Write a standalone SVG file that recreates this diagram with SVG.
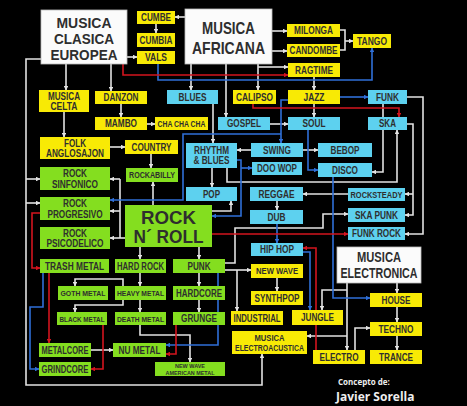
<svg xmlns="http://www.w3.org/2000/svg" width="467" height="406" viewBox="0 0 467 406">
<defs>
<style>
.y{fill:#f8ea05}.c{fill:#5dd1ef}.g{fill:#84de1f}.w{fill:#fbfbfb;stroke:#bbb;stroke-width:0.8}
text{font-family:"Liberation Sans",Arial,sans-serif;font-weight:bold;fill:#2e2e2e;text-anchor:middle;font-size:10px}
.s9{font-size:9px}.s8{font-size:8px}
.lw,.lb,.lr,.ln{fill:none;stroke-width:1.6;stroke-linejoin:miter}
.lw{stroke:#e2e2e2;marker-end:url(#aw)}.ln{stroke:#e2e2e2}
.lb{stroke:#2f6fd8;marker-end:url(#ab)}.lr{stroke:#d3141e;marker-end:url(#ar)}
.sig{font-family:"Open Sans","DejaVu Sans",sans-serif;fill:#eeeeee;text-anchor:start}
</style>
<marker id="aw" viewBox="0 0 10 10" refX="9" refY="5" markerWidth="3" markerHeight="3" orient="auto"><path d="M0,0L10,5L0,10z" fill="#e2e2e2"/></marker>
<marker id="ab" viewBox="0 0 10 10" refX="9" refY="5" markerWidth="3" markerHeight="3" orient="auto"><path d="M0,0L10,5L0,10z" fill="#2f6fd8"/></marker>
<marker id="ar" viewBox="0 0 10 10" refX="9" refY="5" markerWidth="3" markerHeight="3" orient="auto"><path d="M0,0L10,5L0,10z" fill="#d3141e"/></marker>
</defs>
<rect width="467" height="406" fill="#000"/>
<g id="connectors">
<path class="lw" d="M66,64V90"/>
<path class="lw" d="M111,64V91"/>
<path class="lw" d="M127,57H137"/>
<path class="lw" d="M41,59H26V385H262V354"/>
<path class="lw" d="M26,179H40"/>
<path class="lw" d="M26,203H40"/>
<path class="lw" d="M185,17H175"/>
<path class="lw" d="M156,24V33"/>
<path class="lw" d="M272,31H287"/>
<path class="lw" d="M272,51H287"/>
<path class="lw" d="M258,64V90"/>
<path class="lw" d="M258,67H288"/>
<path class="lw" d="M191,64V90"/>
<path class="lw" d="M226,64V117"/>
<path class="ln" d="M340,30H345V50H340"/>
<path class="lw" d="M345,41H353"/>
<path class="lw" d="M314,77V90"/>
<path class="lw" d="M314,104V117"/>
<path class="lw" d="M270,124H288"/>
<path class="lw" d="M121,104V117"/>
<path class="lw" d="M147,124H155"/>
<path class="lw" d="M64,112V137"/>
<path class="lw" d="M110,147H125"/>
<path class="lw" d="M151,154V168"/>
<path class="lw" d="M153,205V182"/>
<path class="lw" d="M213,104V143"/>
<path class="lw" d="M251,150H237"/>
<path class="lw" d="M303,150H318"/>
<path class="lw" d="M212,168V187"/>
<path class="lw" d="M227,168V182H397V130"/>
<path class="lw" d="M212,211H231V201"/>
<path class="lw" d="M125,238H110"/>
<path class="ln" d="M120,238V179"/>
<path class="lw" d="M120,179H110"/>
<path class="lw" d="M120,211H110"/>
<path class="lw" d="M383,104V172H372"/>
<path class="lw" d="M407,97H423V234H405"/>
<path class="lw" d="M407,124H413V215H405"/>
<path class="lw" d="M413,194H405"/>
<path class="lw" d="M348,194H303"/>
<path class="lw" d="M277,201V210"/>
<path class="lw" d="M140,247V259"/>
<path class="lw" d="M199,247V259"/>
<path class="lw" d="M199,273V286"/>
<path class="lw" d="M199,300V312"/>
<path class="lw" d="M140,273V286"/>
<path class="lw" d="M140,300V312"/>
<path class="lw" d="M123,286V279H75V286"/>
<path class="lw" d="M123,300V305H75V312"/>
<path class="lw" d="M140,325V335H190V362"/>
<path class="lw" d="M91,350H113"/>
<path class="lw" d="M225,270H251"/>
<path class="lw" d="M237,270V311"/>
<path class="lw" d="M225,263H235V228H323V214H348"/>
<path class="lw" d="M277,278V291"/>
<path class="lw" d="M347,283V350"/>
<path class="lw" d="M347,290H322V310"/>
<path class="lw" d="M347,336H307"/>
<path class="lw" d="M397,283V293"/>
<path class="lw" d="M397,307V322"/>
<path class="lw" d="M397,336V350"/>
<path class="lw" d="M355,350V328H370"/>
<path class="lb" d="M158,64V80H372V48"/>
<path class="lb" d="M340,97H368"/>
<path class="lb" d="M288,100H281V143"/>
<path class="lb" d="M281,134H183V200H110"/>
<path class="lb" d="M308,130V170H318"/>
<path class="lb" d="M237,160H241V216H212"/>
<path class="lb" d="M241,168H252"/>
<path class="lb" d="M277,224V243"/>
<path class="lb" d="M333,177V298H370"/>
<path class="lb" d="M303,252H310V310"/>
<path class="lb" d="M218,273V345H166"/>
<path class="lb" d="M43,273V307H30V369H39"/>
<path class="lr" d="M123,64V75H288"/>
<path class="lr" d="M253,104V108H399V117"/>
<path class="lr" d="M212,234H348"/>
<path class="lr" d="M40,213H32V268H40"/>
<path class="lr" d="M49,273V343"/>
<path class="lr" d="M103,325V369H91"/>
<path class="lr" d="M176,325V354H166"/>
<path class="lr" d="M316,350V248H303"/>
</g>
<g id="n-clasica"><rect class="w" x="41" y="10" width="86" height="54"/><text x="84" y="28" style="font-size:15px" textLength="55" lengthAdjust="spacingAndGlyphs">MUSICA</text><text x="84" y="44" style="font-size:15px" textLength="60" lengthAdjust="spacingAndGlyphs">CLASICA</text><text x="84" y="60" style="font-size:15px" textLength="67" lengthAdjust="spacingAndGlyphs">EUROPEA</text></g>
<g id="n-cumbe"><rect class="y" x="137" y="11" width="38" height="13"/><text x="156" y="21.1" textLength="30" lengthAdjust="spacingAndGlyphs">CUMBE</text></g>
<g id="n-cumbia"><rect class="y" x="137" y="33" width="38" height="14"/><text x="156" y="43.6" textLength="33" lengthAdjust="spacingAndGlyphs">CUMBIA</text></g>
<g id="n-vals"><rect class="y" x="137" y="51" width="38" height="13"/><text x="156" y="61.1" textLength="22" lengthAdjust="spacingAndGlyphs">VALS</text></g>
<g id="n-africana"><rect class="w" x="185" y="9" width="87" height="55"/><text x="228.5" y="34" style="font-size:17px" textLength="53" lengthAdjust="spacingAndGlyphs">MUSICA</text><text x="228.5" y="54" style="font-size:17px" textLength="73" lengthAdjust="spacingAndGlyphs">AFRICANA</text></g>
<g id="n-milonga"><rect class="y" x="287" y="24" width="53" height="13"/><text x="313.5" y="34.1" textLength="39" lengthAdjust="spacingAndGlyphs">MILONGA</text></g>
<g id="n-candombe"><rect class="y" x="287" y="44" width="53" height="13"/><text x="313.5" y="54.1" textLength="48" lengthAdjust="spacingAndGlyphs">CANDOMBE</text></g>
<g id="n-ragtime"><rect class="y" x="288" y="63" width="52" height="14"/><text x="314" y="73.6" textLength="38" lengthAdjust="spacingAndGlyphs">RAGTIME</text></g>
<g id="n-tango"><rect class="y" x="353" y="34" width="38" height="14"/><text x="372" y="44.6" textLength="30" lengthAdjust="spacingAndGlyphs">TANGO</text></g>
<g id="n-celta"><rect class="y" x="39" y="90" width="50" height="22"/><text x="64" y="99.5" textLength="32" lengthAdjust="spacingAndGlyphs">MUSICA</text><text x="64" y="109.5" textLength="27" lengthAdjust="spacingAndGlyphs">CELTA</text></g>
<g id="n-danzon"><rect class="y" x="95" y="91" width="52" height="13"/><text x="121" y="101.1" textLength="35" lengthAdjust="spacingAndGlyphs">DANZON</text></g>
<g id="n-mambo"><rect class="y" x="95" y="117" width="52" height="13"/><text x="121" y="127.1" textLength="32" lengthAdjust="spacingAndGlyphs">MAMBO</text></g>
<g id="n-chachacha"><rect class="y" x="155" y="117" width="53" height="13"/><text class="s9" x="181.5" y="126.8" textLength="48" lengthAdjust="spacingAndGlyphs">CHA CHA CHA</text></g>
<g id="n-blues"><rect class="c" x="167" y="90" width="51" height="14"/><text x="192.5" y="100.6" textLength="28" lengthAdjust="spacingAndGlyphs">BLUES</text></g>
<g id="n-calipso"><rect class="y" x="233" y="90" width="43" height="14"/><text x="254.5" y="100.6" textLength="37" lengthAdjust="spacingAndGlyphs">CALIPSO</text></g>
<g id="n-jazz"><rect class="y" x="288" y="90" width="52" height="14"/><text x="314" y="100.6" textLength="21" lengthAdjust="spacingAndGlyphs">JAZZ</text></g>
<g id="n-funk"><rect class="c" x="368" y="90" width="39" height="14"/><text x="387.5" y="100.6" textLength="23" lengthAdjust="spacingAndGlyphs">FUNK</text></g>
<g id="n-gospel"><rect class="c" x="218" y="117" width="52" height="13"/><text x="244" y="127.1" textLength="34" lengthAdjust="spacingAndGlyphs">GOSPEL</text></g>
<g id="n-soul"><rect class="c" x="288" y="117" width="52" height="13"/><text x="314" y="127.1" textLength="23" lengthAdjust="spacingAndGlyphs">SOUL</text></g>
<g id="n-ska"><rect class="c" x="368" y="117" width="39" height="13"/><text x="387.5" y="127.1" textLength="17" lengthAdjust="spacingAndGlyphs">SKA</text></g>
<g id="n-folk"><rect class="y" x="40" y="137" width="70" height="22"/><text x="75" y="146.5" textLength="22" lengthAdjust="spacingAndGlyphs">FOLK</text><text x="75" y="156.5" textLength="58" lengthAdjust="spacingAndGlyphs">ANGLOSAJON</text></g>
<g id="n-country"><rect class="y" x="125" y="140" width="53" height="14"/><text x="151.5" y="150.6" textLength="40" lengthAdjust="spacingAndGlyphs">COUNTRY</text></g>
<g id="n-rockabilly"><rect class="g" x="126" y="168" width="52" height="14"/><text class="s9" x="152" y="178.3" textLength="46" lengthAdjust="spacingAndGlyphs">ROCKABILLY</text></g>
<g id="n-rnb"><rect class="c" x="186" y="143" width="51" height="25"/><text x="211.5" y="153.5" textLength="35" lengthAdjust="spacingAndGlyphs">RHYTHM</text><text x="211.5" y="164" textLength="36" lengthAdjust="spacingAndGlyphs">&amp; BLUES</text></g>
<g id="n-swing"><rect class="c" x="251" y="143" width="52" height="14"/><text x="277" y="153.6" textLength="28" lengthAdjust="spacingAndGlyphs">SWING</text></g>
<g id="n-bebop"><rect class="c" x="318" y="143" width="54" height="14"/><text x="345" y="153.6" textLength="29" lengthAdjust="spacingAndGlyphs">BEBOP</text></g>
<g id="n-doowop"><rect class="c" x="252" y="162" width="50" height="13"/><text x="277" y="172.1" textLength="40" lengthAdjust="spacingAndGlyphs">DOO WOP</text></g>
<g id="n-disco"><rect class="c" x="318" y="163" width="54" height="14"/><text x="345" y="173.6" textLength="26" lengthAdjust="spacingAndGlyphs">DISCO</text></g>
<g id="n-sinfonico"><rect class="g" x="40" y="167" width="70" height="23"/><text x="75" y="177" textLength="24" lengthAdjust="spacingAndGlyphs">ROCK</text><text x="75" y="187.5" textLength="46" lengthAdjust="spacingAndGlyphs">SINFONICO</text></g>
<g id="n-progresivo"><rect class="g" x="40" y="197" width="70" height="23"/><text x="75" y="207" textLength="24" lengthAdjust="spacingAndGlyphs">ROCK</text><text x="75" y="217.5" textLength="55" lengthAdjust="spacingAndGlyphs">PROGRESIVO</text></g>
<g id="n-psicodelico"><rect class="g" x="40" y="227" width="70" height="22"/><text x="75" y="236.5" textLength="24" lengthAdjust="spacingAndGlyphs">ROCK</text><text x="75" y="247" textLength="57" lengthAdjust="spacingAndGlyphs">PSICODELICO</text></g>
<g id="n-rocknroll"><rect class="g" x="125" y="205" width="87" height="42"/><text x="168.5" y="223.5" style="font-size:19px" textLength="55" lengthAdjust="spacingAndGlyphs">ROCK</text><text x="168.5" y="242.5" style="font-size:19px" textLength="70" lengthAdjust="spacingAndGlyphs">N´ ROLL</text></g>
<g id="n-pop"><rect class="c" x="186" y="187" width="51" height="14"/><text x="211.5" y="197.6" textLength="17" lengthAdjust="spacingAndGlyphs">POP</text></g>
<g id="n-reggae"><rect class="c" x="250" y="187" width="53" height="14"/><text x="276.5" y="197.6" textLength="36" lengthAdjust="spacingAndGlyphs">REGGAE</text></g>
<g id="n-rocksteady"><rect class="c" x="348" y="188" width="57" height="13"/><text class="s9" x="376.5" y="197.8" textLength="52" lengthAdjust="spacingAndGlyphs">ROCKSTEADY</text></g>
<g id="n-dub"><rect class="c" x="250" y="210" width="53" height="14"/><text x="276.5" y="220.6" textLength="18" lengthAdjust="spacingAndGlyphs">DUB</text></g>
<g id="n-skapunk"><rect class="c" x="348" y="208" width="57" height="14"/><text x="376.5" y="218.6" textLength="43" lengthAdjust="spacingAndGlyphs">SKA PUNK</text></g>
<g id="n-funkrock"><rect class="c" x="348" y="227" width="57" height="13"/><text x="376.5" y="237.1" textLength="49" lengthAdjust="spacingAndGlyphs">FUNK ROCK</text></g>
<g id="n-hiphop"><rect class="c" x="251" y="243" width="52" height="13"/><text x="277" y="253.1" textLength="34" lengthAdjust="spacingAndGlyphs">HIP HOP</text></g>
<g id="n-electronica"><rect class="w" x="337" y="247" width="84" height="36"/><text x="379" y="262" style="font-size:14px" textLength="44" lengthAdjust="spacingAndGlyphs">MUSICA</text><text x="379" y="277.5" style="font-size:14px" textLength="77" lengthAdjust="spacingAndGlyphs">ELECTRONICA</text></g>
<g id="n-trash"><rect class="g" x="40" y="259" width="69" height="14"/><text x="74.5" y="269.6" textLength="59" lengthAdjust="spacingAndGlyphs">TRASH METAL</text></g>
<g id="n-hardrock"><rect class="g" x="115" y="259" width="51" height="14"/><text x="140.5" y="269.6" textLength="47" lengthAdjust="spacingAndGlyphs">HARD ROCK</text></g>
<g id="n-punk"><rect class="g" x="173" y="259" width="52" height="14"/><text x="199" y="269.6" textLength="23" lengthAdjust="spacingAndGlyphs">PUNK</text></g>
<g id="n-newwave"><rect class="y" x="251" y="264" width="52" height="14"/><text class="s9" x="277" y="274.3" textLength="42" lengthAdjust="spacingAndGlyphs">NEW WAVE</text></g>
<g id="n-goth"><rect class="g" x="58" y="286" width="50" height="14"/><text class="s8" x="83" y="296" textLength="45" lengthAdjust="spacingAndGlyphs">GOTH METAL</text></g>
<g id="n-heavy"><rect class="g" x="115" y="286" width="51" height="14"/><text class="s8" x="140.5" y="296" textLength="47" lengthAdjust="spacingAndGlyphs">HEAVY METAL</text></g>
<g id="n-hardcore"><rect class="g" x="173" y="286" width="52" height="14"/><text x="199" y="296.6" textLength="46" lengthAdjust="spacingAndGlyphs">HARDCORE</text></g>
<g id="n-synthpop"><rect class="y" x="251" y="291" width="52" height="14"/><text x="277" y="301.6" textLength="45" lengthAdjust="spacingAndGlyphs">SYNTHPOP</text></g>
<g id="n-house"><rect class="y" x="370" y="293" width="52" height="14"/><text x="396" y="303.6" textLength="29" lengthAdjust="spacingAndGlyphs">HOUSE</text></g>
<g id="n-black"><rect class="g" x="57" y="312" width="50" height="13"/><text class="s8" x="82" y="321.6" textLength="45" lengthAdjust="spacingAndGlyphs">BLACK METAL</text></g>
<g id="n-death"><rect class="g" x="115" y="312" width="51" height="13"/><text class="s8" x="140.5" y="321.6" textLength="47" lengthAdjust="spacingAndGlyphs">DEATH METAL</text></g>
<g id="n-grunge"><rect class="g" x="173" y="312" width="52" height="13"/><text x="199" y="322.1" textLength="36" lengthAdjust="spacingAndGlyphs">GRUNGE</text></g>
<g id="n-industrial"><rect class="y" x="231" y="311" width="52" height="14"/><text x="257" y="321.6" textLength="47" lengthAdjust="spacingAndGlyphs">INDUSTRIAL</text></g>
<g id="n-jungle"><rect class="y" x="292" y="310" width="51" height="15"/><text x="317.5" y="321.1" textLength="33" lengthAdjust="spacingAndGlyphs">JUNGLE</text></g>
<g id="n-techno"><rect class="y" x="370" y="322" width="52" height="14"/><text x="396" y="332.6" textLength="35" lengthAdjust="spacingAndGlyphs">TECHNO</text></g>
<g id="n-electroacustica"><rect class="y" x="232" y="331" width="75" height="23"/><text class="s9" x="269.5" y="340.8" textLength="30" lengthAdjust="spacingAndGlyphs">MUSICA</text><text class="s9" x="269.5" y="351" textLength="69" lengthAdjust="spacingAndGlyphs">ELECTROACUSTICA</text></g>
<g id="n-metalcore"><rect class="g" x="39" y="343" width="52" height="14"/><text x="65" y="353.6" textLength="47" lengthAdjust="spacingAndGlyphs">METALCORE</text></g>
<g id="n-numetal"><rect class="g" x="113" y="343" width="53" height="14"/><text x="139.5" y="353.6" textLength="42" lengthAdjust="spacingAndGlyphs">NU METAL</text></g>
<g id="n-electro"><rect class="y" x="313" y="350" width="52" height="14"/><text x="339" y="360.6" textLength="39" lengthAdjust="spacingAndGlyphs">ELECTRO</text></g>
<g id="n-trance"><rect class="y" x="370" y="350" width="52" height="14"/><text x="396" y="360.6" textLength="34" lengthAdjust="spacingAndGlyphs">TRANCE</text></g>
<g id="n-grindcore"><rect class="g" x="39" y="362" width="52" height="14"/><text x="65" y="372.6" textLength="47" lengthAdjust="spacingAndGlyphs">GRINDCORE</text></g>
<g id="n-nwam"><rect class="g" x="155" y="362" width="70" height="14"/><text x="190" y="368.3" style="font-size:6px" textLength="30" lengthAdjust="spacingAndGlyphs">NEW WAVE</text><text x="190" y="374.5" style="font-size:6px" textLength="49" lengthAdjust="spacingAndGlyphs">AMERICAN METAL</text></g>
<g id="credit"><text class="sig" x="338" y="385" style="font-size:8px">Concepto de:</text><text class="sig" x="336" y="401" style="font-size:12px">Javier Sorella</text></g>
</svg>
